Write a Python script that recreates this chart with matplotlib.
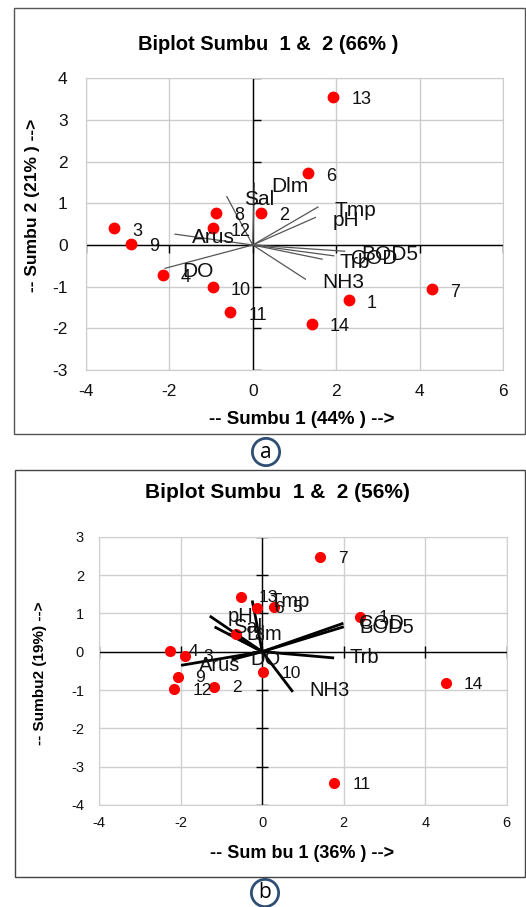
import matplotlib
matplotlib.use("Agg")
import matplotlib.pyplot as plt
from matplotlib.patches import Rectangle

plt.rcParams['font.family'] = ['Liberation Sans', 'DejaVu Sans']
plt.rcParams['axes.unicode_minus'] = False

# --- panel a: stations (scores) ---
a_ids = ['1', '2', '3', '4', '6', '7', '8', '9', '10', '11', '12', '13', '14']
a_x = [2.30, 0.20, -3.32, -2.16, 1.32, 4.30, -0.87, -2.92, -0.95, -0.54, -0.95, 1.93, 1.41]
a_y = [-1.33, 0.77, 0.40, -0.72, 1.72, -1.06, 0.77, 0.03, -1.02, -1.62, 0.40, 3.56, -1.89]

# --- panel a: variables (loadings) ---
a_vars = ['Dlm', 'Sal', 'Tmp', 'pH', 'Arus', 'DO', 'BOD5', 'COD', 'Trb', 'NH3']
a_vx = [0.04, -0.62, 1.56, 1.50, -1.86, -2.10, 2.20, 1.94, 1.66, 1.26]
a_vy = [1.48, 1.16, 0.91, 0.66, 0.26, -0.56, -0.15, -0.26, -0.34, -0.82]

a_xticks = [-4, -2, 0, 2, 4, 6]
a_yticks = [-3, -2, -1, 0, 1, 2, 3, 4]

# --- panel b: stations ---
b_ids = ['1', '2', '3', '4', '5', '6', '7', '8', '9', '10', '11', '12', '13', '14']
b_x = [2.41, -1.19, -1.89, -2.26, 0.29, -0.14, 1.42, -0.65, -2.08, 0.03, 1.77, -2.16, -0.52, 4.51]
b_y = [0.91, -0.91, -0.11, 0.02, 1.17, 1.15, 2.46, 0.45, -0.65, -0.54, -3.43, -0.98, 1.43, -0.82]

# --- panel b: variables ---
b_vars = ['Tmp', 'pH', 'Sal', 'Dlm', 'BOD5', 'COD', 'Trb', 'NH3', 'Arus', 'DO']
b_vx = [-0.24, -1.26, -1.14, -0.80, 1.97, 1.96, 1.73, 0.73, -1.96, -0.72]
b_vy = [1.30, 0.91, 0.63, 0.45, 0.64, 0.73, -0.16, -1.02, -0.35, -0.20]

b_xticks = [-4, -2, 0, 2, 4, 6]
b_yticks = [-4, -3, -2, -1, 0, 1, 2, 3]

W, H = 526, 907
fig = plt.figure(figsize=(W / 100, H / 100), dpi=100)


def px_axes(x0, y0, x1, y1):
    return fig.add_axes([x0 / W, 1 - y1 / H, (x1 - x0) / W, (y1 - y0) / H])


def setup(ax, xt, yt, tick_fs, xpad, ypad, grid_c):
    ax.set_xlim(xt[0], xt[-1])
    ax.set_ylim(yt[0], yt[-1])
    ax.set_xticks(xt)
    ax.set_yticks(yt)
    ax.grid(True, color=grid_c, lw=1, zorder=0)
    ax.set_axisbelow(True)
    for s in ax.spines.values():
        s.set_color(grid_c)
    ax.tick_params(length=0, labelsize=tick_fs, colors='#111111')
    ax.tick_params(axis='x', pad=xpad)
    ax.tick_params(axis='y', pad=ypad)
    ax.axhline(0, color='black', lw=1, zorder=1)
    ax.axvline(0, color='black', lw=1, zorder=1)


# outer frames
fig.patches.append(Rectangle((14 / W, 1 - 434 / H), 511 / W, 426 / H, transform=fig.transFigure,
                             fill=False, edgecolor='#555555', lw=1))
fig.patches.append(Rectangle((15 / W, 1 - 877 / H), 510 / W, 407 / H, transform=fig.transFigure,
                             fill=False, edgecolor='#444444', lw=1))

# ---------------- panel a ----------------
ax1 = px_axes(85.7, 78.3, 503.3, 370)
setup(ax1, a_xticks, a_yticks, 12.5, 10, 13, '#cccccc')
ax1.plot(a_xticks, [0] * len(a_xticks), ls='none', marker=3, ms=6, color='black', mew=1)
ax1.plot([0] * len(a_yticks), a_yticks, ls='none', marker=1, ms=6, color='black', mew=1)
for vx, vy, name in zip(a_vx, a_vy, a_vars):
    ax1.plot([0, vx], [0, vy], color='#555555', lw=0.9, zorder=2)
    ax1.annotate(name, (vx, vy), xytext=(17, -3), textcoords='offset pixels',
                 ha='left', va='center', fontsize=15, color='#111111', zorder=4)
ax1.plot(a_x, a_y, ls='none', marker='o', ms=7.5, color='red', zorder=3)
for x, y, lab in zip(a_x, a_y, a_ids):
    ax1.annotate(lab, (x, y), xytext=(18, -3), textcoords='offset pixels',
                 ha='left', va='center', fontsize=13, color='#111111', zorder=4)

fig.text(268 / W, 1 - 45 / H, 'Biplot Sumbu  1 &  2 (66% )', ha='center', va='center',
         fontsize=14.5, fontweight='bold')
fig.text(302 / W, 1 - 420 / H, '-- Sumbu 1 (44% ) -->', ha='center', va='center',
         fontsize=13.5, fontweight='bold')
fig.text(33 / W, 1 - 205 / H, '-- Sumbu 2 (21% ) -->', ha='center', va='center',
         fontsize=12.5, fontweight='bold', rotation=90)

# ---------------- panel b ----------------
ax2 = px_axes(99.3, 536.7, 506.7, 805)
setup(ax2, b_xticks, b_yticks, 10.5, 8, 11, '#d0d0d0')
ax2.plot(b_xticks, [0] * len(b_xticks), ls='none', marker='|', ms=8, color='black', mew=1)
ax2.plot([0] * len(b_yticks), b_yticks, ls='none', marker='_', ms=8, color='black', mew=1)
for vx, vy, name in zip(b_vx, b_vy, b_vars):
    ax2.plot([0, vx], [0, vy], color='black', lw=2, zorder=2)
    ax2.annotate(name, (vx, vy), xytext=(17, 0), textcoords='offset pixels',
                 ha='left', va='center', fontsize=14.5, color='#111111', zorder=4)
ax2.plot(b_x, b_y, ls='none', marker='o', ms=7, color='red', zorder=3)
for x, y, lab in zip(b_x, b_y, b_ids):
    ax2.annotate(lab, (x, y), xytext=(18, -1), textcoords='offset pixels',
                 ha='left', va='center', fontsize=12.5, color='#111111', zorder=4)

fig.text(277 / W, 1 - 492 / H, 'Biplot Sumbu  1 &  2 (56%)', ha='center', va='center',
         fontsize=15, fontweight='bold')
fig.text(302 / W, 1 - 853 / H, '-- Sum bu 1 (36% ) -->', ha='center', va='center',
         fontsize=13, fontweight='bold')
fig.text(40 / W, 1 - 673 / H, '-- Sumbu2 (19%) -->', ha='center', va='center',
         fontsize=11, fontweight='bold', rotation=90,
         family=['Liberation Sans Narrow', 'Liberation Sans'])

# panel markers
circ = dict(boxstyle='circle,pad=0.15', fc='white', ec='#2f4f75', lw=2)
fig.text(266 / W, 1 - 452 / H, 'a', ha='center', va='center', fontsize=15,
         family=['Open Sans', 'DejaVu Sans'], bbox=circ)
fig.text(265 / W, 1 - 893 / H, 'b', ha='center', va='center', fontsize=15,
         family=['Open Sans', 'DejaVu Sans'], bbox=circ)

fig.savefig('out.png', dpi=100)
